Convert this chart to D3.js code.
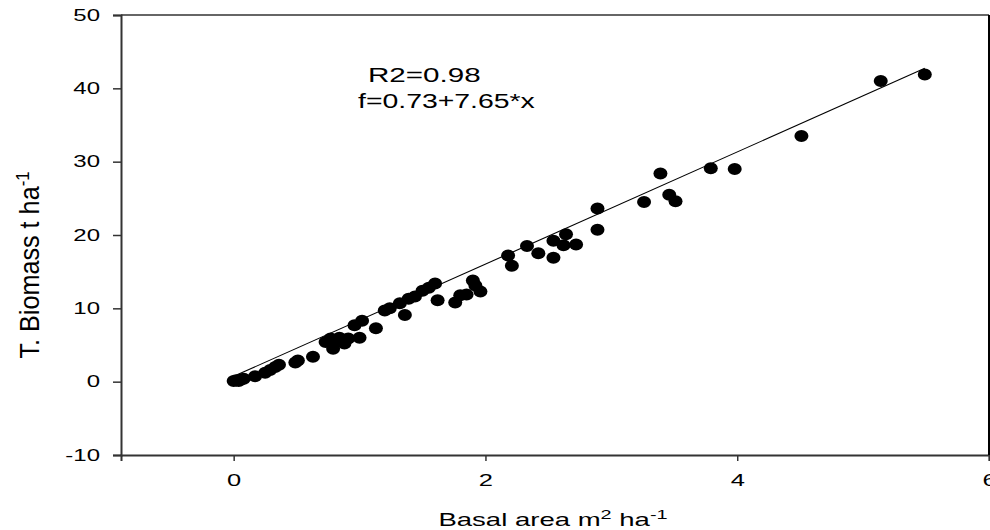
<!DOCTYPE html>
<html>
<head>
<meta charset="utf-8">
<script src="https://cdn.jsdelivr.net/npm/d3@7"></script>
<style>
  body { margin: 0; background: #fff; }
  text { font-family: "Liberation Sans", Arial, sans-serif; fill: #000; }
</style>
</head>
<body>
<svg id="chart"></svg>
<script>
// Dữ liệu: diện tích tiết diện (x) và sinh khối (y)
const basalArea = [0.00, 0.02, 0.04, 0.06, 0.08, 0.17, 0.25, 0.29, 0.33, 0.36, 0.49, 0.51, 0.63,
  0.73, 0.77, 0.79, 0.81, 0.84, 0.88, 0.91, 0.96, 1.00, 1.02, 1.13, 1.20, 1.24, 1.32, 1.36, 1.39,
  1.44, 1.50, 1.55, 1.60, 1.62, 1.76, 1.80, 1.85, 1.90, 1.92, 1.96, 2.18, 2.21, 2.33, 2.42, 2.54,
  2.54, 2.62, 2.64, 2.72, 2.89, 2.89, 3.26, 3.39, 3.46, 3.51, 3.79, 3.98, 4.51, 5.14, 5.49];
const biomass = [0.1, 0.2, 0.1, 0.3, 0.4, 0.75, 1.2, 1.6, 2.0, 2.3, 2.6, 2.9, 3.4,
  5.4, 5.9, 4.5, 5.5, 6.0, 5.2, 5.9, 7.7, 6.0, 8.3, 7.3, 9.7, 10.0, 10.7, 9.1, 11.3,
  11.6, 12.4, 12.8, 13.4, 11.1, 10.8, 11.8, 11.9, 13.8, 13.1, 12.3, 17.2, 15.8, 18.5, 17.5, 19.2,
  16.9, 18.6, 20.1, 18.7, 23.6, 20.7, 24.5, 28.4, 25.5, 24.6, 29.1, 29.0, 33.5, 41.0, 41.9];
const xTicks = [0, 2, 4, 6];
const yTicks = [-10, 0, 10, 20, 30, 40, 50];
const intercept = 0.73, slope = 7.65;
const annotation = ["R2=0.98", "f=0.73+7.65*x"];

const width = 990, height = 530;
const margin = { top: 15, right: 1, bottom: 75, left: 121 };
const stretch = 1.5; // chữ trong ảnh gốc bị kéo giãn ngang

const svg = d3.select("#chart").attr("width", width).attr("height", height);

const x = d3.scaleLinear().domain([-0.895, 6]).range([margin.left, width - margin.right]);
const y = d3.scaleLinear().domain([-10, 50]).range([height - margin.bottom, margin.top]);

// Kéo giãn nhãn trục mà vẫn giữ vị trí
function styleAxis(g, size) {
  g.select(".domain").attr("stroke", "#333").attr("stroke-width", 2);
  g.selectAll(".tick line").attr("stroke", "#333").attr("stroke-width", 1.5);
  g.selectAll(".tick text")
    .attr("font-size", size)
    .attr("fill", "#000")
    .attr("transform", function () {
      const tx = +d3.select(this).attr("x") || 0;
      return `translate(${tx},0) scale(${stretch},1)`;
    })
    .attr("x", 0);
}

// Trục Y
svg.append("g")
  .attr("transform", `translate(${margin.left},0)`)
  .call(d3.axisLeft(y).tickValues(yTicks).tickFormat(d => String(d)).tickSize(8).tickPadding(13))
  .call(g => styleAxis(g, 16));

// Trục X
svg.append("g")
  .attr("transform", `translate(0,${height - margin.bottom})`)
  .call(d3.axisBottom(x).tickValues(xTicks).tickFormat(d => String(d)).tickSize(6).tickPadding(13))
  .call(g => styleAxis(g, 17));

// Khung trên và phải
svg.append("line")
  .attr("x1", margin.left).attr("x2", width - margin.right)
  .attr("y1", margin.top).attr("y2", margin.top)
  .attr("stroke", "#333").attr("stroke-width", 1.5);
svg.append("line")
  .attr("x1", width - margin.right).attr("x2", width - margin.right)
  .attr("y1", margin.top).attr("y2", height - margin.bottom)
  .attr("stroke", "#000").attr("stroke-width", 2);

// Đường hồi quy
const xFit = d3.extent(basalArea);
svg.append("line")
  .attr("x1", x(xFit[0])).attr("y1", y(intercept + slope * xFit[0]))
  .attr("x2", x(xFit[1])).attr("y2", y(intercept + slope * xFit[1]))
  .attr("stroke", "#000").attr("stroke-width", 1.1);

// Điểm dữ liệu
svg.append("g").selectAll("ellipse")
  .data(d3.zip(basalArea, biomass))
  .join("ellipse")
  .attr("cx", d => x(d[0]))
  .attr("cy", d => y(d[1]))
  .attr("rx", 7).attr("ry", 6)
  .attr("fill", "#000");

// Chú thích phương trình
svg.append("text").attr("transform", `translate(368,82) scale(1.48,1)`)
  .attr("font-size", 20).text(annotation[0]);
svg.append("text").attr("transform", `translate(358,108) scale(1.42,1)`)
  .attr("font-size", 20).text(annotation[1]);

// Nhãn trục X
const xl = svg.append("text")
  .attr("transform", `translate(553,526) scale(1.53,1)`)
  .attr("text-anchor", "middle")
  .attr("font-size", 18);
xl.append("tspan").text("Basal area m");
xl.append("tspan").attr("dy", -7).attr("font-size", 13).text("2");
xl.append("tspan").attr("dy", 7).text(" ha");
xl.append("tspan").attr("dy", -7).attr("font-size", 13).text("-1");

// Nhãn trục Y
const yl = svg.append("text")
  .attr("transform", "translate(39,265) rotate(-90) scale(1.2,1.3)")
  .attr("text-anchor", "middle")
  .attr("font-size", 21);
yl.append("tspan").text("T. Biomass t ha");
yl.append("tspan").attr("dy", -8).attr("font-size", 14).text("-1");
</script>
</body>
</html>
